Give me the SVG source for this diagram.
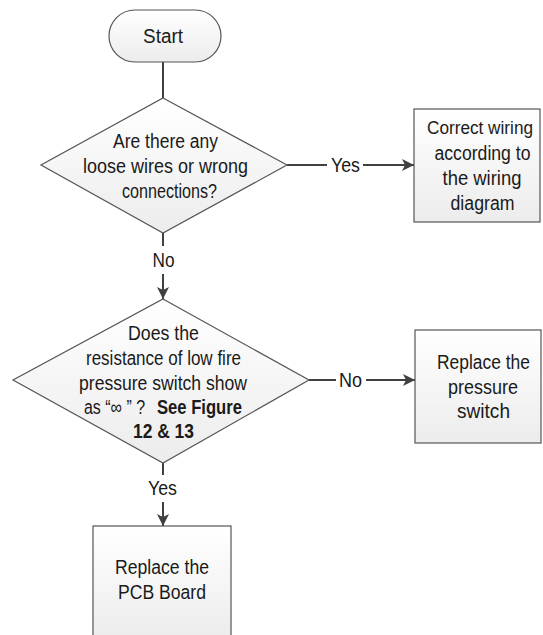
<svg xmlns="http://www.w3.org/2000/svg" width="543" height="635" viewBox="0 0 543 635">
<defs>
<linearGradient id="g" x1="0" y1="0" x2="0" y2="1">
<stop offset="0" stop-color="#ffffff"/>
<stop offset="1" stop-color="#ececec"/>
</linearGradient>
<marker id="arr" viewBox="0 0 12 12" refX="12" refY="6" markerWidth="12" markerHeight="12" markerUnits="userSpaceOnUse" orient="auto">
<path d="M0,0 L12,6 L0,12 L3,6 Z" fill="#404040"/>
</marker>
<style>
.s{fill:url(#g);stroke:#555;stroke-width:1.2}
.t{font-family:"Liberation Sans",Arial,sans-serif;font-size:20px;fill:#1a1a1a;text-anchor:middle}
.st{text-anchor:start}
.b{font-weight:bold}
.c{stroke:#404040;stroke-width:2;fill:none}
</style>
</defs>
<g id="connectors">
<line class="c" x1="163" y1="62" x2="163" y2="98"/>
<line class="c" x1="287" y1="165" x2="327" y2="165"/>
<line class="c" x1="363" y1="165" x2="414" y2="165" marker-end="url(#arr)"/>
<text class="t" x="345.5" y="172" textLength="29" lengthAdjust="spacingAndGlyphs">Yes</text>
<line class="c" x1="163" y1="233" x2="163" y2="246"/>
<text class="t" x="163.5" y="267" textLength="22" lengthAdjust="spacingAndGlyphs">No</text>
<line class="c" x1="163" y1="274" x2="163" y2="299" marker-end="url(#arr)"/>
<line class="c" x1="309" y1="380" x2="336" y2="380"/>
<line class="c" x1="366" y1="380" x2="415" y2="380" marker-end="url(#arr)"/>
<text class="t" x="350.5" y="387" textLength="23" lengthAdjust="spacingAndGlyphs">No</text>
<line class="c" x1="163" y1="463" x2="163" y2="475"/>
<text class="t" x="162.5" y="495" textLength="29" lengthAdjust="spacingAndGlyphs">Yes</text>
<line class="c" x1="163" y1="502" x2="163" y2="526" marker-end="url(#arr)"/>
</g>
<g id="start">
<rect class="s" x="109" y="10" width="112" height="52" rx="26" ry="26"/>
<text class="t" x="163" y="43" textLength="40" lengthAdjust="spacingAndGlyphs">Start</text>
</g>
<g id="decision1">
<polygon class="s" points="163,98 287,165 163,233 41,165"/>
<text class="t" x="165.5" y="148" textLength="105" lengthAdjust="spacingAndGlyphs">Are there any</text>
<text class="t" x="165.5" y="173" textLength="165" lengthAdjust="spacingAndGlyphs">loose wires or wrong</text>
<text class="t" x="169.5" y="198" textLength="95" lengthAdjust="spacingAndGlyphs">connections?</text>
</g>
<g id="correct-wiring">
<rect class="s" x="414" y="109" width="126" height="113"/>
<text class="t" x="480" y="134" style="font-size:18px" textLength="106" lengthAdjust="spacingAndGlyphs">Correct wiring</text>
<text class="t" x="482.5" y="160" textLength="96" lengthAdjust="spacingAndGlyphs">according to</text>
<text class="t" x="482" y="185" textLength="79" lengthAdjust="spacingAndGlyphs">the wiring</text>
<text class="t" x="482.5" y="210" textLength="64" lengthAdjust="spacingAndGlyphs">diagram</text>
</g>
<g id="decision2">
<polygon class="s" points="163,299 309,380 163,463 13,380"/>
<text class="t" x="163.5" y="340" textLength="71" lengthAdjust="spacingAndGlyphs">Does the</text>
<text class="t" x="163.5" y="365" textLength="155" lengthAdjust="spacingAndGlyphs">resistance of low fire</text>
<text class="t" x="163" y="390" textLength="168" lengthAdjust="spacingAndGlyphs">pressure switch show</text>
<text class="t st" x="84" y="414" textLength="61" lengthAdjust="spacingAndGlyphs">as “∞ ” ?</text>
<text class="t st b" x="157" y="414" textLength="85" lengthAdjust="spacingAndGlyphs">See Figure</text>
<text class="t b" x="163.5" y="438" textLength="61" lengthAdjust="spacingAndGlyphs">12 &amp; 13</text>
</g>
<g id="replace-switch">
<rect class="s" x="415" y="330" width="126" height="113"/>
<text class="t" x="483.5" y="369" textLength="93" lengthAdjust="spacingAndGlyphs">Replace the</text>
<text class="t" x="483" y="394" textLength="70" lengthAdjust="spacingAndGlyphs">pressure</text>
<text class="t" x="483.5" y="418" textLength="53" lengthAdjust="spacingAndGlyphs">switch</text>
</g>
<g id="replace-pcb">
<rect class="s" x="93" y="526" width="138" height="115"/>
<text class="t" x="162" y="574" textLength="94" lengthAdjust="spacingAndGlyphs">Replace the</text>
<text class="t" x="162" y="599" textLength="88" lengthAdjust="spacingAndGlyphs">PCB Board</text>
</g>
</svg>
